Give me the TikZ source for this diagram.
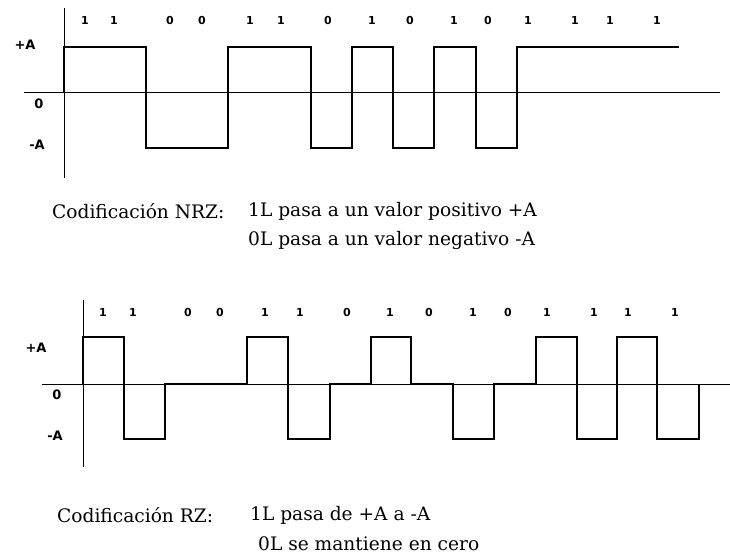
\documentclass[tikz,border=0pt]{standalone}
\usepackage{fontspec}
\setmainfont{DejaVu Serif}
\newfontfamily\bitfont{DejaVu Sans}
\begin{document}
\begin{tikzpicture}[x=1pt,y=-1pt,
  axis/.style={line width=1pt,black},
  wave/.style={line width=1.4pt,black,line join=miter},
  bit/.style={font=\bitfont\bfseries\fontsize{11}{12}\selectfont,inner sep=0pt},
  lvl/.style={font=\bitfont\bfseries\fontsize{13}{14}\selectfont,inner sep=0pt},
  capt/.style={font=\fontsize{18.6}{20}\selectfont,inner sep=0pt,anchor=west}]
\useasboundingbox (0,0) rectangle (730,556);

% ---------- NRZ ----------
\coordinate (nt) at (64,8);
\coordinate (nb) at (64,178);
\coordinate (nl) at (24,93);
\coordinate (nr) at (720,93);
\draw[axis] (nt) -- (nb);
\draw[axis] (nl) -- (nr);

\node[lvl] (npa) at (25,45) {+A};
\node[lvl] (nz) at (39,104) {0};
\node[lvl] (nma) at (37,145) {-A};

\foreach \x/\b [count=\i] in {85/1,114/1,170/0,202/0,250/1,281/1,328/0,372/1,
    410/0,454/1,488/0,528/1,575/1,610/1,657/1}
  \node[bit] (nbit\i) at (\x,20) {\b};

\draw[wave] (64,93) -- (64,47) -- (146,47) -- (146,148) -- (228,148)
  -- (228,47) -- (311,47) -- (311,148) -- (352,148) -- (352,47)
  -- (393,47) -- (393,148) -- (434,148) -- (434,47) -- (476,47)
  -- (476,148) -- (517,148) -- (517,47) -- (679,47);

\node[capt] (ncap) at (52,211) {Codificación NRZ:};
\node[capt] (nl1) at (248,211) {1L pasa a un valor positivo +A};
\node[capt] (nl2) at (248,240) {0L pasa a un valor negativo -A};

% ---------- RZ ----------
\coordinate (rt) at (83,300);
\coordinate (rb) at (83,467);
\coordinate (rl) at (42,384);
\coordinate (rr) at (730,384);
\draw[axis] (rt) -- (rb);
\draw[axis] (rl) -- (rr);

\node[lvl] (rpa) at (36,348) {+A};
\node[lvl] (rz) at (57,395) {0};
\node[lvl] (rma) at (55,436) {-A};

\foreach \x/\b [count=\i] in {103/1,133/1,188/0,220/0,265/1,300/1,347/0,390/1,
    429/0,473/1,508/0,547/1,594/1,628/1,675/1}
  \node[bit] (rbit\i) at (\x,312) {\b};

\draw[wave] (83,384) -- (83,337) -- (124,337) -- (124,439) -- (165,439)
  -- (165,384) -- (247,384) -- (247,337) -- (288,337) -- (288,439)
  -- (330,439) -- (330,384) -- (371,384) -- (371,337) -- (411,337)
  -- (411,384) -- (453,384) -- (453,439) -- (494,439) -- (494,384)
  -- (536,384) -- (536,337) -- (577,337) -- (577,439) -- (617,439)
  -- (617,337) -- (657,337) -- (657,439) -- (699,439) -- (699,384);

\node[capt] (rcap) at (57,515) {Codificación RZ:};
\node[capt] (rl1) at (250,515) {1L pasa de +A a -A};
\node[capt] (rl2) at (258,544) {0L se mantiene en cero};
\end{tikzpicture}
\end{document}
